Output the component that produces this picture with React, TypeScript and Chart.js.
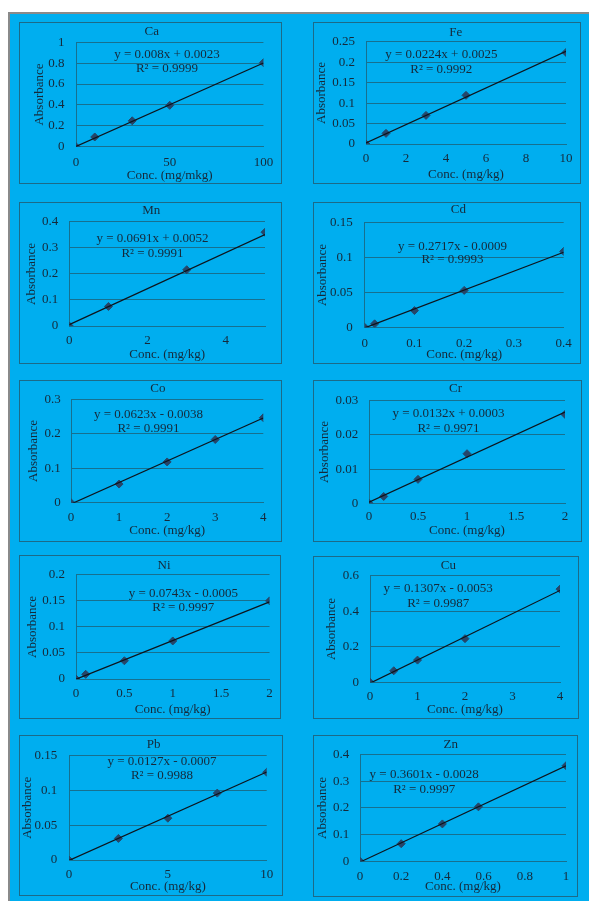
import React, { useEffect, useRef } from "react";
import { Chart, registerables } from "chart.js";

Chart.register(...registerables);

// ---------- data ----------
const elements = ["Ca", "Fe", "Mn", "Cd", "Co", "Cr", "Ni", "Cu", "Pb", "Zn"];

const caConc = [0, 10, 30, 50, 100];
const caAbs = [0, 0.093, 0.248, 0.396, 0.805];
const feConc = [0, 1, 3, 5, 10];
const feAbs = [0, 0.026, 0.07, 0.119, 0.224];
const mnConc = [0, 1, 3, 5];
const mnAbs = [0, 0.075, 0.216, 0.36];
const cdConc = [0, 0.02, 0.1, 0.2, 0.4];
const cdAbs = [0, 0.005, 0.024, 0.053, 0.109];
const coConc = [0, 1, 2, 3, 4];
const coAbs = [0, 0.054, 0.118, 0.183, 0.246];
const crConc = [0, 0.15, 0.5, 1, 2];
const crAbs = [0, 0.002, 0.007, 0.0145, 0.026];
const niConc = [0, 0.1, 0.5, 1, 2];
const niAbs = [0, 0.009, 0.035, 0.073, 0.15];
const cuConc = [0, 0.5, 1, 2, 4];
const cuAbs = [0, 0.065, 0.125, 0.246, 0.525];
const pbConc = [0, 2.5, 5, 7.5, 10];
const pbAbs = [0, 0.031, 0.06, 0.096, 0.126];
const znConc = [0, 0.2, 0.4, 0.575, 1];
const znAbs = [0, 0.066, 0.14, 0.204, 0.358];

const concSeries = [caConc, feConc, mnConc, cdConc, coConc, crConc, niConc, cuConc, pbConc, znConc];
const absSeries = [caAbs, feAbs, mnAbs, cdAbs, coAbs, crAbs, niAbs, cuAbs, pbAbs, znAbs];

const slopes = [0.008, 0.0224, 0.0691, 0.2717, 0.0623, 0.0132, 0.0743, 0.1307, 0.0127, 0.3601];
const intercepts = [0.0023, 0.0025, 0.0052, -0.0009, -0.0038, 0.0003, -0.0005, -0.0053, -0.0007, -0.0028];
const rSquared = ["0.9999", "0.9992", "0.9991", "0.9993", "0.9991", "0.9971", "0.9997", "0.9987", "0.9988", "0.9997"];

const xMax = [100, 10, 5, 0.4, 4, 2, 2, 4, 10, 1];
const xStep = [50, 2, 2, 0.1, 1, 0.5, 0.5, 1, 5, 0.2];
const yMax = [1, 0.25, 0.4, 0.15, 0.3, 0.03, 0.2, 0.6, 0.15, 0.4];
const yStep = [0.2, 0.05, 0.1, 0.05, 0.1, 0.01, 0.05, 0.2, 0.05, 0.1];

const xTitles = [
  "Conc. (mg/mkg)", "Conc. (mg/kg)", "Conc. (mg/kg)", "Conc. (mg/kg)", "Conc. (mg/kg)",
  "Conc. (mg/kg)", "Conc. (mg/kg)", "Conc. (mg/kg)", "Conc. (mg/kg)", "Conc. (mg/kg)",
];
const yTitle = "Absorbance";

// ---------- layout (page pixels) ----------
type Layout = {
  panel: number[]; plot: number[]; title: number[];
  yLabelX: number; yTickRight: number; xTickY: number; xLabelY: number; eq: number[];
};
const layouts: Layout[] = [
  { panel: [19, 22, 281, 183], plot: [76, 39, 265, 146.7], title: [151.7, 31.7], yLabelX: 39.2, yTickRight: 64.5, xTickY: 162.3, xLabelY: 175.7, eq: [167, 55, 68.3] },
  { panel: [313, 22, 580, 183], plot: [366, 40, 566, 144], title: [455.7, 32.3], yLabelX: 322, yTickRight: 355, xTickY: 159, xLabelY: 175, eq: [441.3, 55, 70] },
  { panel: [19, 202, 281, 363], plot: [69.3, 219.3, 265, 326], title: [151.3, 210.7], yLabelX: 31.7, yTickRight: 58.3, xTickY: 341, xLabelY: 354.5, eq: [152.5, 238.3, 253.3] },
  { panel: [313, 202, 580, 363], plot: [364.7, 219.3, 566, 327.3], title: [458.3, 210], yLabelX: 322.3, yTickRight: 352.7, xTickY: 343.3, xLabelY: 354.5, eq: [452.5, 246.7, 260] },
  { panel: [19, 380, 281, 541], plot: [71, 398.7, 263.3, 502.7], title: [157.8, 389], yLabelX: 33.3, yTickRight: 60.7, xTickY: 517.3, xLabelY: 531, eq: [148.5, 414.3, 428.3] },
  { panel: [313, 380, 581, 541], plot: [369, 400.7, 565, 503.3], title: [455.5, 389], yLabelX: 324.3, yTickRight: 358.3, xTickY: 516.7, xLabelY: 530.7, eq: [448.5, 414, 428.3] },
  { panel: [19, 555, 280, 718], plot: [76, 572.3, 270, 679], title: [164, 566], yLabelX: 32.7, yTickRight: 65, xTickY: 694, xLabelY: 709.3, eq: [183.3, 593.3, 607.3] },
  { panel: [313, 556, 578, 718], plot: [370, 575, 560, 682.3], title: [448.3, 566], yLabelX: 331.7, yTickRight: 359, xTickY: 696.7, xLabelY: 710, eq: [438.2, 588.3, 603.3] },
  { panel: [19, 735, 282, 895], plot: [69, 750.7, 266.7, 860], title: [153.7, 745], yLabelX: 28, yTickRight: 57.3, xTickY: 875, xLabelY: 886.7, eq: [162, 761.7, 775.7] },
  { panel: [313, 735, 577, 896], plot: [360, 752.7, 566, 861.3], title: [450.7, 745], yLabelX: 322.8, yTickRight: 349.3, xTickY: 876.7, xLabelY: 886.7, eq: [424.2, 775, 789.3] },
];

// ---------- styles ----------
const BG = "#00aeef";
const GRID = "#17708f";
const BORDER = "#1c6a88";
const TEXT = "#15293a";
const MARK = "#25466a";
const LINE = "#0d141c";
const FAMILY = '"Liberation Serif", "Times New Roman", serif';
const FS = 13;
const LH = FS * 1.2;

const fmt = (v: number | string) => String(parseFloat(Number(v).toFixed(6)));

function Panel({ idx }: { idx: number }) {
  const ref = useRef<HTMLCanvasElement | null>(null);
  const lay = layouts[idx];
  const [x1, y1, x2, y2] = lay.panel;
  const ox = x1 + 1;
  const oy = y1 + 1;
  const W = x2 - x1 - 1;
  const H = y2 - y1 - 1;

  useEffect(() => {
    if (!ref.current) return;
    const L = lay.plot[0] - ox;
    const T = lay.plot[1] - oy;
    const R = lay.plot[2] - ox;
    const B = lay.plot[3] - oy;
    const padR = W - R;
    const yW = L;
    const xH = H - B;
    const yTickPad = L - (lay.yTickRight - ox);
    const xTickPad = lay.xTickY - oy - B - LH / 2;
    const yTitlePad = lay.yLabelX - ox - LH / 2;
    const xTitlePad = H - LH / 2 - (lay.xLabelY - oy);

    const xs = concSeries[idx];
    const ys = absSeries[idx];
    const m = slopes[idx];
    const b = intercepts[idx];
    const x0 = Math.min(...xs);
    const xe = Math.max(...xs);
    const eqText = `y = ${m}x ${b < 0 ? "-" : "+"} ${Math.abs(b)}`;
    const r2Text = `R² = ${rSquared[idx]}`;

    const font = { family: FAMILY, size: FS, lineHeight: 1.2, weight: "normal" };

    const textPlugin = {
      id: "panelText",
      afterDraw(chart: any) {
        const ctx = chart.ctx;
        ctx.save();
        ctx.font = `${FS}px ${FAMILY}`;
        ctx.fillStyle = TEXT;
        ctx.textAlign = "center";
        ctx.textBaseline = "middle";
        ctx.fillText(elements[idx], lay.title[0] - ox, lay.title[1] - oy);
        ctx.fillText(eqText, lay.eq[0] - ox, lay.eq[1] - oy);
        ctx.fillText(r2Text, lay.eq[0] - ox, lay.eq[2] - oy);
        ctx.restore();
      },
    };

    const chart = new Chart(ref.current, {
      type: "scatter",
      data: {
        datasets: [
          {
            label: "Linear",
            data: [
              { x: x0, y: m * x0 + b },
              { x: xe, y: m * xe + b },
            ],
            showLine: true,
            borderColor: LINE,
            borderWidth: 1.2,
            pointRadius: 0,
            fill: false,
          },
          {
            label: elements[idx],
            data: xs.map((x, i) => ({ x, y: ys[i] })),
            showLine: false,
            pointStyle: "rectRot",
            pointRadius: 4,
            pointBackgroundColor: MARK,
            pointBorderColor: MARK,
            pointBorderWidth: 1,
          },
        ],
      },
      options: {
        animation: false,
        responsive: false,
        events: [],
        layout: { padding: { left: 0, right: padR, top: T, bottom: 0 } },
        plugins: {
          legend: { display: false },
          tooltip: { enabled: false },
          title: { display: false },
        },
        scales: {
          x: {
            type: "linear",
            min: 0,
            max: xMax[idx],
            grid: { display: false, drawTicks: false },
            border: { display: true, color: GRID, width: 1 },
            ticks: {
              stepSize: xStep[idx],
              includeBounds: false,
              autoSkip: false,
              maxRotation: 0,
              padding: xTickPad,
              color: TEXT,
              font,
              callback: (v: any) => fmt(v),
            },
            title: {
              display: true,
              text: xTitles[idx],
              color: TEXT,
              font,
              padding: { top: 0, bottom: xTitlePad },
            },
            afterFit: (s: any) => {
              s.height = xH;
            },
          },
          y: {
            type: "linear",
            min: 0,
            max: yMax[idx],
            grid: { display: true, drawTicks: false, color: GRID, lineWidth: 1 },
            border: { display: true, color: GRID, width: 1 },
            ticks: {
              stepSize: yStep[idx],
              autoSkip: false,
              padding: yTickPad,
              color: TEXT,
              font,
              callback: (v: any) => fmt(v),
            },
            title: {
              display: true,
              text: yTitle,
              color: TEXT,
              font,
              padding: { top: yTitlePad, bottom: 0 },
            },
            afterFit: (s: any) => {
              s.width = yW;
            },
          },
        },
      } as any,
      plugins: [textPlugin],
    });
    return () => chart.destroy();
  }, [idx]);

  return (
    <div
      style={{
        position: "absolute",
        left: x1,
        top: y1,
        width: x2 - x1 + 1,
        height: y2 - y1 + 1,
        boxSizing: "border-box",
        border: `1px solid ${BORDER}`,
      }}
    >
      <canvas ref={ref} width={W} height={H} style={{ display: "block", width: W, height: H }} />
    </div>
  );
}

export default function App() {
  return (
    <>
      <div
        style={{
          position: "absolute",
          left: 8,
          top: 12,
          width: 581,
          height: 889,
          boxSizing: "border-box",
          background: BG,
          borderLeft: "2px solid #8a8a8a",
          borderTop: "2px solid #8a8a8a",
        }}
      />
      {elements.map((_, i) => (
        <Panel key={i} idx={i} />
      ))}
    </>
  );
}
